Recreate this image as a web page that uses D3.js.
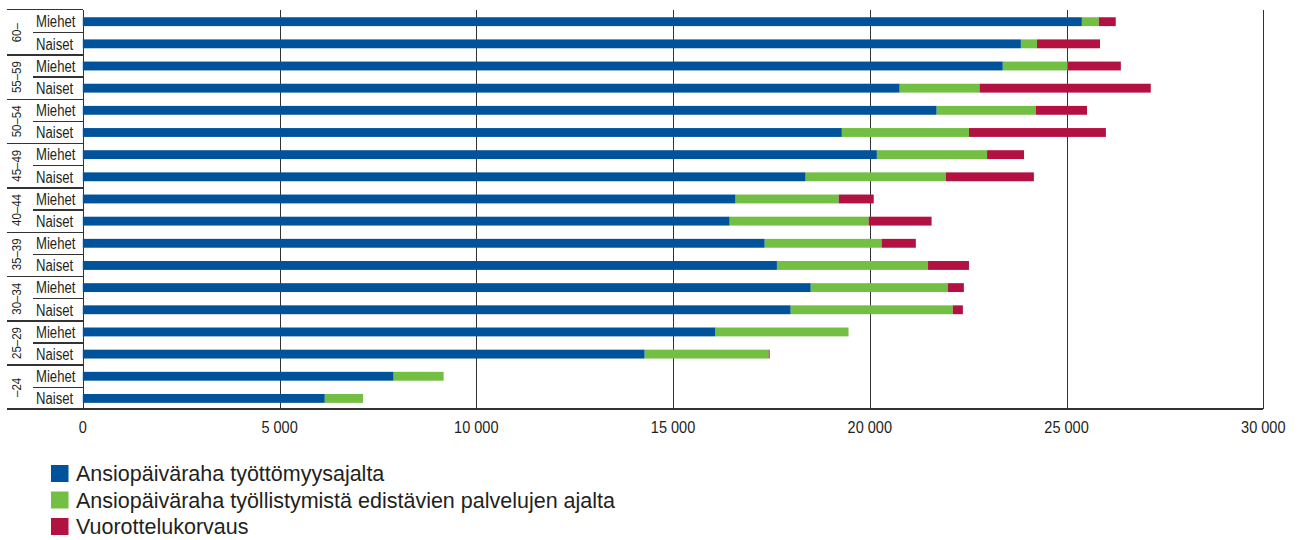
<html>
<head>
  <meta charset="utf-8">
  <script src="https://d3js.org/d3.v7.min.js"></script>
</head>
<style>
  body {
    margin: 0;
    background: #fff;
  }

  text {
    fill: #231f20;
    font-family: 'Liberation Sans', Arial, sans-serif;
  }

  .legend text {
    font-size: 21.5px;
  }

  .rule {
    stroke: #333;
    stroke-width: 1.4;
    shape-rendering: crispEdges;
  }
</style>

<body>
  <script>
    // age groups, oldest first (as drawn from the top)
    var ageGroups = ['60–', '55–59', '50–54', '45–49', '40–44', '35–39', '30–34', '25–29', '–24'];
    var sexes = ['Miehet', 'Naiset'];

    // one value per row: 60– Miehet, 60– Naiset, 55–59 Miehet, ...
    var tyottomyys = [25390, 23840, 23380, 20760, 21700, 19290, 20180, 18370, 16590,
                      16440, 17330, 17640, 18500, 17990, 16080, 14280, 7900, 6150];
    var palvelut = [430, 410, 1650, 2030, 2520, 3230, 2800, 3560, 2620,
                    3530, 2970, 3840, 3480, 4120, 3380, 3150, 1270, 970];
    var vuorottelu = [430, 1600, 1350, 4350, 1300, 3480, 940, 2240, 890,
                      1600, 870, 1040, 410, 255, 0, 25, 0, 0];

    var seriesNames = ['Ansiopäiväraha työttömyysajalta',
                       'Ansiopäiväraha työllistymistä edistävien palvelujen ajalta',
                       'Vuorottelukorvaus'];
    var seriesColors = ['#00539b', '#72bf44', '#b31142'];
    var xTicks = [0, 5000, 10000, 15000, 20000, 25000, 30000];

    var width = 1304,
        height = 540;

    var rows = [];
    ageGroups.forEach(function(g, i) {
      sexes.forEach(function(s, j) {
        var k = i * 2 + j;
        rows.push({
          key: g + '|' + s, group: g, sex: s,
          values: [tyottomyys[k], palvelut[k], vuorottelu[k]]
        });
      });
    });

    var stacked = d3.stack()
      .keys([0, 1, 2])
      .value(function(d, k) { return d.values[k]; })(rows);

    var x = d3.scaleLinear()
      .domain([0, 30000])
      .range([82.8, 1263.3]);

    var y = d3.scaleBand()
      .domain(rows.map(function(d) { return d.key; }))
      .range([10.6, 409.5])
      .paddingInner(0.6)
      .paddingOuter(0.3);

    var step = y.step();
    var yTop = 9.5,
        yBottom = 408.8;

    var svg = d3.select('body').append('svg')
      .attr('width', width)
      .attr('height', height);

    // vertical grid lines
    svg.append('g')
      .selectAll('line')
      .data(xTicks)
      .join('line')
      .attr('class', 'rule')
      .attr('x1', function(d) { return Math.round(x(d)) + 0.5; })
      .attr('x2', function(d) { return Math.round(x(d)) + 0.5; })
      .attr('y1', yTop)
      .attr('y2', yBottom);

    // bars
    svg.append('g')
      .selectAll('g')
      .data(stacked)
      .join('g')
      .attr('fill', function(d, i) { return seriesColors[i]; })
      .selectAll('rect')
      .data(function(d) { return d; })
      .join('rect')
      .attr('x', function(d) { return x(d[0]); })
      .attr('y', function(d) { return y(d.data.key); })
      .attr('width', function(d) { return Math.max(0, x(d[1]) - x(d[0])); })
      .attr('height', y.bandwidth());

    // label column rules
    var labels = svg.append('g');
    labels.append('line')
      .attr('class', 'rule')
      .attr('x1', 7).attr('x2', x(0))
      .attr('y1', yTop).attr('y2', yTop);

    labels.selectAll('line.sep')
      .data(rows.slice(1))
      .join('line')
      .attr('class', 'rule sep')
      .attr('x1', function(d) { return d.sex == 'Naiset' ? 33 : 7; })
      .attr('x2', x(0))
      .attr('y1', function(d) { return y(d.key) - (step - y.bandwidth()) / 2; })
      .attr('y2', function(d) { return y(d.key) - (step - y.bandwidth()) / 2; });

    // bottom axis line
    labels.append('line')
      .attr('class', 'rule')
      .attr('x1', 7).attr('x2', x(30000))
      .attr('y1', yBottom).attr('y2', yBottom);

    // no narrow font installed, so squeeze Liberation Sans horizontally
    labels.selectAll('text.sex')
      .data(rows)
      .join('text')
      .attr('class', 'sex')
      .attr('transform', function(d) {
        return 'translate(36,' + (y(d.key) + y.bandwidth() / 2) + ') scale(0.82,1)';
      })
      .attr('dy', '0.36em')
      .style('font-size', '16px')
      .text(function(d) { return d.sex; });

    labels.selectAll('text.age')
      .data(ageGroups)
      .join('text')
      .attr('class', 'age')
      .attr('text-anchor', 'middle')
      .style('font-size', '13.5px')
      .attr('transform', function(g) {
        var cy = (y(g + '|Miehet') + y(g + '|Naiset') + y.bandwidth()) / 2;
        return 'translate(20.5,' + cy + ') rotate(-90) scale(0.85,1)';
      })
      .text(function(g) { return g; });

    // x tick labels
    svg.append('g')
      .selectAll('text')
      .data(xTicks)
      .join('text')
      .attr('text-anchor', 'middle')
      .style('font-size', '16.5px')
      .attr('transform', function(d) { return 'translate(' + x(d) + ',433) scale(0.88,1)'; })
      .text(function(d) { return d3.format(',')(d).replace(/,/g, ' '); });

    // legend
    var legend = svg.append('g')
      .attr('class', 'legend')
      .selectAll('g')
      .data(seriesNames)
      .join('g')
      .attr('transform', function(d, i) { return 'translate(51,' + (465 + i * 26.5) + ')'; });

    legend.append('rect')
      .attr('width', 17.5)
      .attr('height', 17)
      .attr('fill', function(d, i) { return seriesColors[i]; });

    legend.append('text')
      .attr('x', 25)
      .attr('y', 16)
      .text(function(d) { return d; });
  </script>
</body>

</html>
